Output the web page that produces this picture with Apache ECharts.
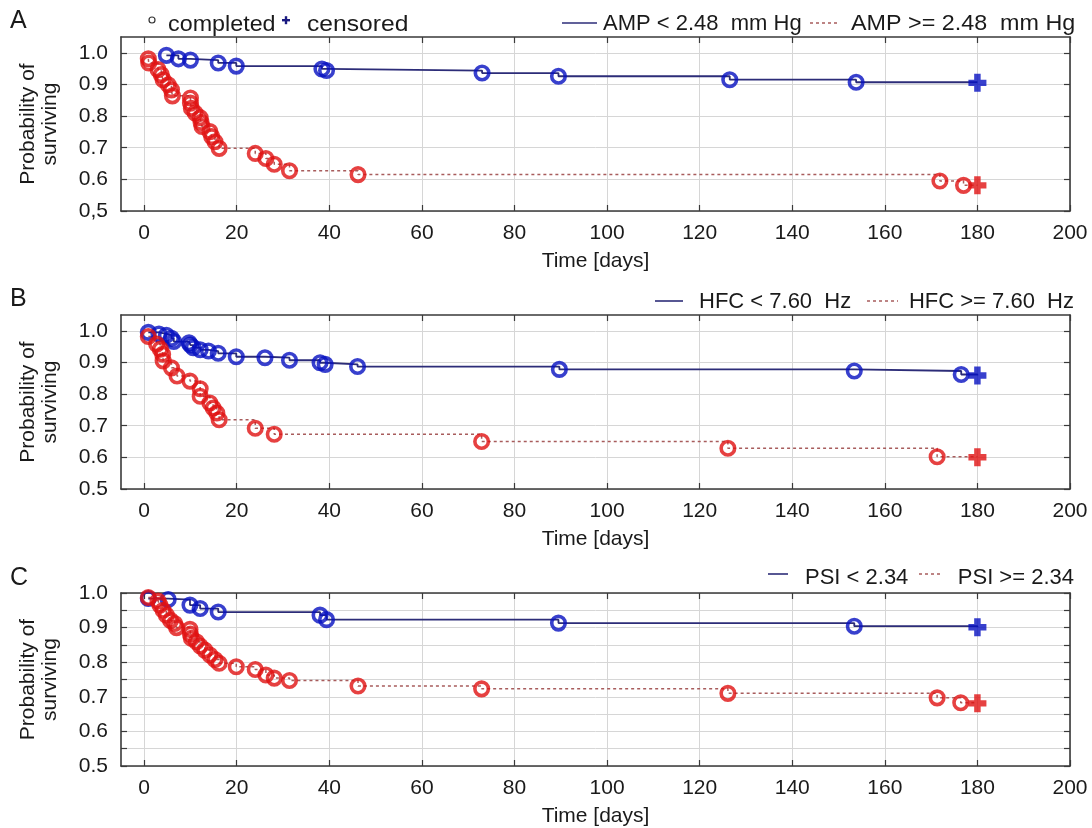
<!DOCTYPE html>
<html><head><meta charset="utf-8">
<script src="https://cdn.jsdelivr.net/npm/echarts@6/dist/echarts.min.js"></script>
<style>html,body{margin:0;padding:0;background:#fff}#c{width:1092px;height:828px}</style>
</head><body><div id="c"></div>
<script>
// ---------- data ----------
const xTickValues = [0, 20, 40, 60, 80, 100, 120, 140, 160, 180, 200];
const yTickValues = [0.5, 0.6, 0.7, 0.8, 0.9, 1.0];

// Panel A: AMP
const ampLowDays = [4.8, 7.4, 10, 16, 19.9, 38.4, 39.4, 73, 89.5, 126.5, 153.8];
const ampLowSurv = [0.992, 0.981, 0.977, 0.968, 0.958, 0.949, 0.944, 0.936, 0.926, 0.915, 0.907];
const ampLowCensDays = [180];
const ampLowCensSurv = [0.905];
const ampHighDays = [0.9, 1.0, 3.0, 3.7, 4.1, 5.2, 5.9, 6.1, 10, 10, 10.2, 11, 12.1, 12.3, 12.5, 14.2, 14.6, 15.3, 16.2, 24, 26.3, 28.1, 31.4, 46.2, 171.9, 177];
const ampHighSurv = [0.981, 0.968, 0.947, 0.931, 0.915, 0.899, 0.883, 0.864, 0.857, 0.841, 0.825, 0.81, 0.795, 0.78, 0.767, 0.751, 0.735, 0.719, 0.698, 0.682, 0.666, 0.648, 0.627, 0.615, 0.595, 0.581];
const ampHighCensDays = [180];
const ampHighCensSurv = [0.581];

// Panel B: HFC
const hfcLowDays = [0.9, 3.2, 4.8, 5.9, 6.4, 9.7, 10, 10.6, 12.1, 13.9, 16, 19.9, 26.1, 31.4, 38, 39.1, 46.1, 89.7, 153.4, 176.5];
const hfcLowSurv = [0.995, 0.99, 0.986, 0.976, 0.966, 0.962, 0.955, 0.947, 0.94, 0.936, 0.929, 0.918, 0.915, 0.907, 0.899, 0.894, 0.887, 0.878, 0.873, 0.862];
const hfcLowCensDays = [180];
const hfcLowCensSurv = [0.859];
const hfcHighDays = [0.9, 2.7, 3.5, 4.0, 4.1, 5.9, 7.1, 9.9, 12.1, 12.1, 14.2, 14.9, 15.7, 16.2, 24, 28.1, 72.9, 126.1, 171.3];
const hfcHighSurv = [0.982, 0.958, 0.942, 0.926, 0.905, 0.883, 0.857, 0.841, 0.817, 0.793, 0.772, 0.756, 0.74, 0.719, 0.692, 0.673, 0.65, 0.629, 0.602];
const hfcHighCensDays = [180];
const hfcHighCensSurv = [0.6];

// Panel C: PSI
const psiLowDays = [0.9, 5.2, 9.9, 12.1, 16, 38, 39.4, 89.5, 153.4];
const psiLowSurv = [0.984, 0.981, 0.965, 0.955, 0.945, 0.936, 0.923, 0.913, 0.904];
const psiLowCensDays = [180];
const psiLowCensSurv = [0.901];
const psiHighDays = [0.9, 3.0, 3.4, 4.1, 4.8, 5.7, 6.6, 7.0, 9.9, 10, 10.2, 11.3, 12.1, 13.1, 14.2, 15.3, 16.2, 19.9, 24, 26.3, 28.1, 31.4, 46.2, 72.9, 126.1, 171.3, 176.4];
const psiHighSurv = [0.987, 0.977, 0.965, 0.95, 0.936, 0.921, 0.912, 0.9, 0.895, 0.881, 0.869, 0.859, 0.847, 0.835, 0.821, 0.808, 0.797, 0.787, 0.779, 0.763, 0.754, 0.747, 0.731, 0.723, 0.71, 0.697, 0.683];
const psiHighCensDays = [180];
const psiHighCensSurv = [0.681];

// ---------- build ----------
const FONT = '"Liberation Sans", Arial, sans-serif';
const TXT = '#1a1a1a';
const BLUE_LINE = '#2c2c78';
const RED_LINE = '#a85c5c';
const BLUE_MARK = '#0610c0';
const RED_MARK = '#e01212';
const PLUS = 'path://M3.2,0H6.8V3.2H10V6.8H6.8V10H3.2V6.8H0V3.2H3.2Z';

const zip = (a, b) => a.map((v, i) => [v, b[i]]);

const panels = [
  { top: 37, yMax: 1.05, minor: false, commaBottom: true,
    groups: [
      [ampLowDays, ampLowSurv, ampLowCensDays, ampLowCensSurv, 'low'],
      [ampHighDays, ampHighSurv, ampHighCensDays, ampHighCensSurv, 'high']] },
  { top: 315, yMax: 1.05, minor: false, commaBottom: false,
    groups: [
      [hfcLowDays, hfcLowSurv, hfcLowCensDays, hfcLowCensSurv, 'low'],
      [hfcHighDays, hfcHighSurv, hfcHighCensDays, hfcHighCensSurv, 'high']] },
  { top: 593, yMax: 1.0, minor: true, commaBottom: false,
    groups: [
      [psiLowDays, psiLowSurv, psiLowCensDays, psiLowCensSurv, 'low'],
      [psiHighDays, psiHighSurv, psiHighCensDays, psiHighCensSurv, 'high']] }
];

const grid = [], xAxis = [], yAxis = [], series = [];
const axisLineStyle = { color: '#3a3a3a', width: 1.6 };
const tickStyle = { color: '#3a3a3a', width: 1.2 };

panels.forEach((p, i) => {
  grid.push({ left: 121, right: 22, top: p.top, height: 174 });
  xAxis.push({
    type: 'value', gridIndex: i, min: -5, max: 200, position: 'bottom',
    name: 'Time [days]', nameLocation: 'middle', nameGap: 40,
    nameTextStyle: { fontFamily: FONT, fontSize: 21, color: TXT },
    axisLine: { show: true, onZero: false, lineStyle: axisLineStyle },
    axisTick: { show: true, inside: true, length: 6, lineStyle: tickStyle, customValues: xTickValues },
    axisLabel: { fontFamily: FONT, fontSize: 21, color: TXT, margin: 12, customValues: xTickValues },
    splitLine: { show: true, lineStyle: { color: '#d6d6d6', width: 1 } }
  });
  xAxis.push({
    type: 'value', gridIndex: i, min: -5, max: 200, position: 'top',
    axisLine: { show: true, onZero: false, lineStyle: axisLineStyle },
    axisTick: { show: true, inside: true, length: 6, lineStyle: tickStyle, customValues: xTickValues },
    axisLabel: { show: false }, splitLine: { show: false }
  });
  const yLabelFmt = v => {
    const r = Math.round(v * 100);
    if (r % 10 !== 0) return '';
    const s = (r / 100).toFixed(1);
    return (p.commaBottom && r === 50) ? s.replace('.', ',') : s;
  };
  const yCommon = { type: 'value', gridIndex: i, min: 0.5, max: p.yMax };
  if (p.minor) { yCommon.interval = 0.05; }
  const yTickOpt = p.minor ? {} : { customValues: yTickValues };
  yAxis.push(Object.assign({}, yCommon, {
    position: 'left',
    name: 'Probability of\nsurviving', nameLocation: 'middle', nameGap: 60,
    nameTextStyle: { fontFamily: FONT, fontSize: 21, color: TXT, lineHeight: 22 },
    axisLine: { show: true, onZero: false, lineStyle: axisLineStyle },
    axisTick: Object.assign({ show: true, inside: true, length: 6, lineStyle: tickStyle }, yTickOpt),
    axisLabel: Object.assign({ fontFamily: FONT, fontSize: 21, color: TXT, margin: 13, formatter: yLabelFmt, showMaxLabel: true }, yTickOpt),
    splitLine: { show: true, lineStyle: { color: '#d6d6d6', width: 1 } }
  }));
  yAxis.push(Object.assign({}, yCommon, {
    position: 'right',
    axisLine: { show: true, onZero: false, lineStyle: axisLineStyle },
    axisTick: Object.assign({ show: true, inside: true, length: 6, lineStyle: tickStyle }, yTickOpt),
    axisLabel: { show: false }, splitLine: { show: false }
  }));

  p.groups.forEach(g => {
    const [days, surv, cDays, cSurv, kind] = g;
    const low = kind === 'low';
    const ev = zip(days, surv);
    const cens = zip(cDays, cSurv);
    series.push({
      type: 'line', xAxisIndex: 2 * i, yAxisIndex: 2 * i, step: 'end',
      data: ev.concat(cens), showSymbol: false, symbol: 'none', silent: true, z: 2,
      lineStyle: low ? { color: BLUE_LINE, width: 1.8 } : { color: RED_LINE, width: 1.5, type: [3, 3] }
    });
    series.push({
      type: 'scatter', xAxisIndex: 2 * i, yAxisIndex: 2 * i, data: ev, z: 3,
      symbol: 'circle', symbolSize: 13.5,
      itemStyle: { color: 'rgba(255,255,255,0)', borderColor: low ? BLUE_MARK : RED_MARK, borderWidth: 3.6 }
    });
    series.push({
      type: 'scatter', xAxisIndex: 2 * i, yAxisIndex: 2 * i, data: cens, z: 4,
      symbol: PLUS, symbolSize: 18,
      itemStyle: { color: low ? BLUE_MARK : RED_MARK }
    });
  });
});

// ---------- legends / panel letters ----------
const T = (x, y, text, opts, sx) => ({
  type: 'text', x: x, y: y, scaleX: sx || 1,
  style: Object.assign({ text: text, fontFamily: FONT, fontSize: 22, fill: TXT, verticalAlign: 'middle', align: 'left' }, opts || {})
});
const L = (x1, x2, y, dashed) => ({
  type: 'line', shape: { x1: x1, y1: y, x2: x2, y2: y },
  style: dashed ? { stroke: RED_LINE, lineWidth: 1.5, lineDash: [3, 3] } : { stroke: BLUE_LINE, lineWidth: 1.6 }
});

const graphic = [
  T(10, 21, 'A', { fontSize: 25 }),
  T(10, 299, 'B', { fontSize: 25 }),
  T(10, 578, 'C', { fontSize: 25 }),
  { type: 'circle', shape: { cx: 152, cy: 20, r: 3 }, style: { fill: 'none', stroke: '#333', lineWidth: 1.2 } },
  T(168, 25, 'completed', null, 1.06),
  { type: 'rect', shape: { x: 282, y: 19, width: 8, height: 2.4 }, style: { fill: '#1a1a80' } },
  { type: 'rect', shape: { x: 284.8, y: 16.2, width: 2.4, height: 8 }, style: { fill: '#1a1a80' } },
  T(307, 25, 'censored', null, 1.12),
  L(562, 597, 23, false),
  T(603, 24, 'AMP < 2.48  mm Hg'),
  L(810, 840, 23, true),
  T(851, 24, 'AMP >= 2.48  mm Hg', null, 1.06),
  L(655, 683, 301, false),
  T(699, 302, 'HFC < 7.60  Hz'),
  L(867, 898, 301, true),
  T(1074, 302, 'HFC >= 7.60  Hz', { align: 'right' }),
  L(768, 788, 574, false),
  T(805, 578, 'PSI < 2.34'),
  L(919, 943, 574, true),
  T(1074, 578, 'PSI >= 2.34', { align: 'right' })
];

const chart = echarts.init(document.getElementById('c'), null, { renderer: 'canvas' });
chart.setOption({
  backgroundColor: '#ffffff',
  animation: false,
  grid: grid, xAxis: xAxis, yAxis: yAxis, series: series, graphic: graphic
});
</script></body></html>
